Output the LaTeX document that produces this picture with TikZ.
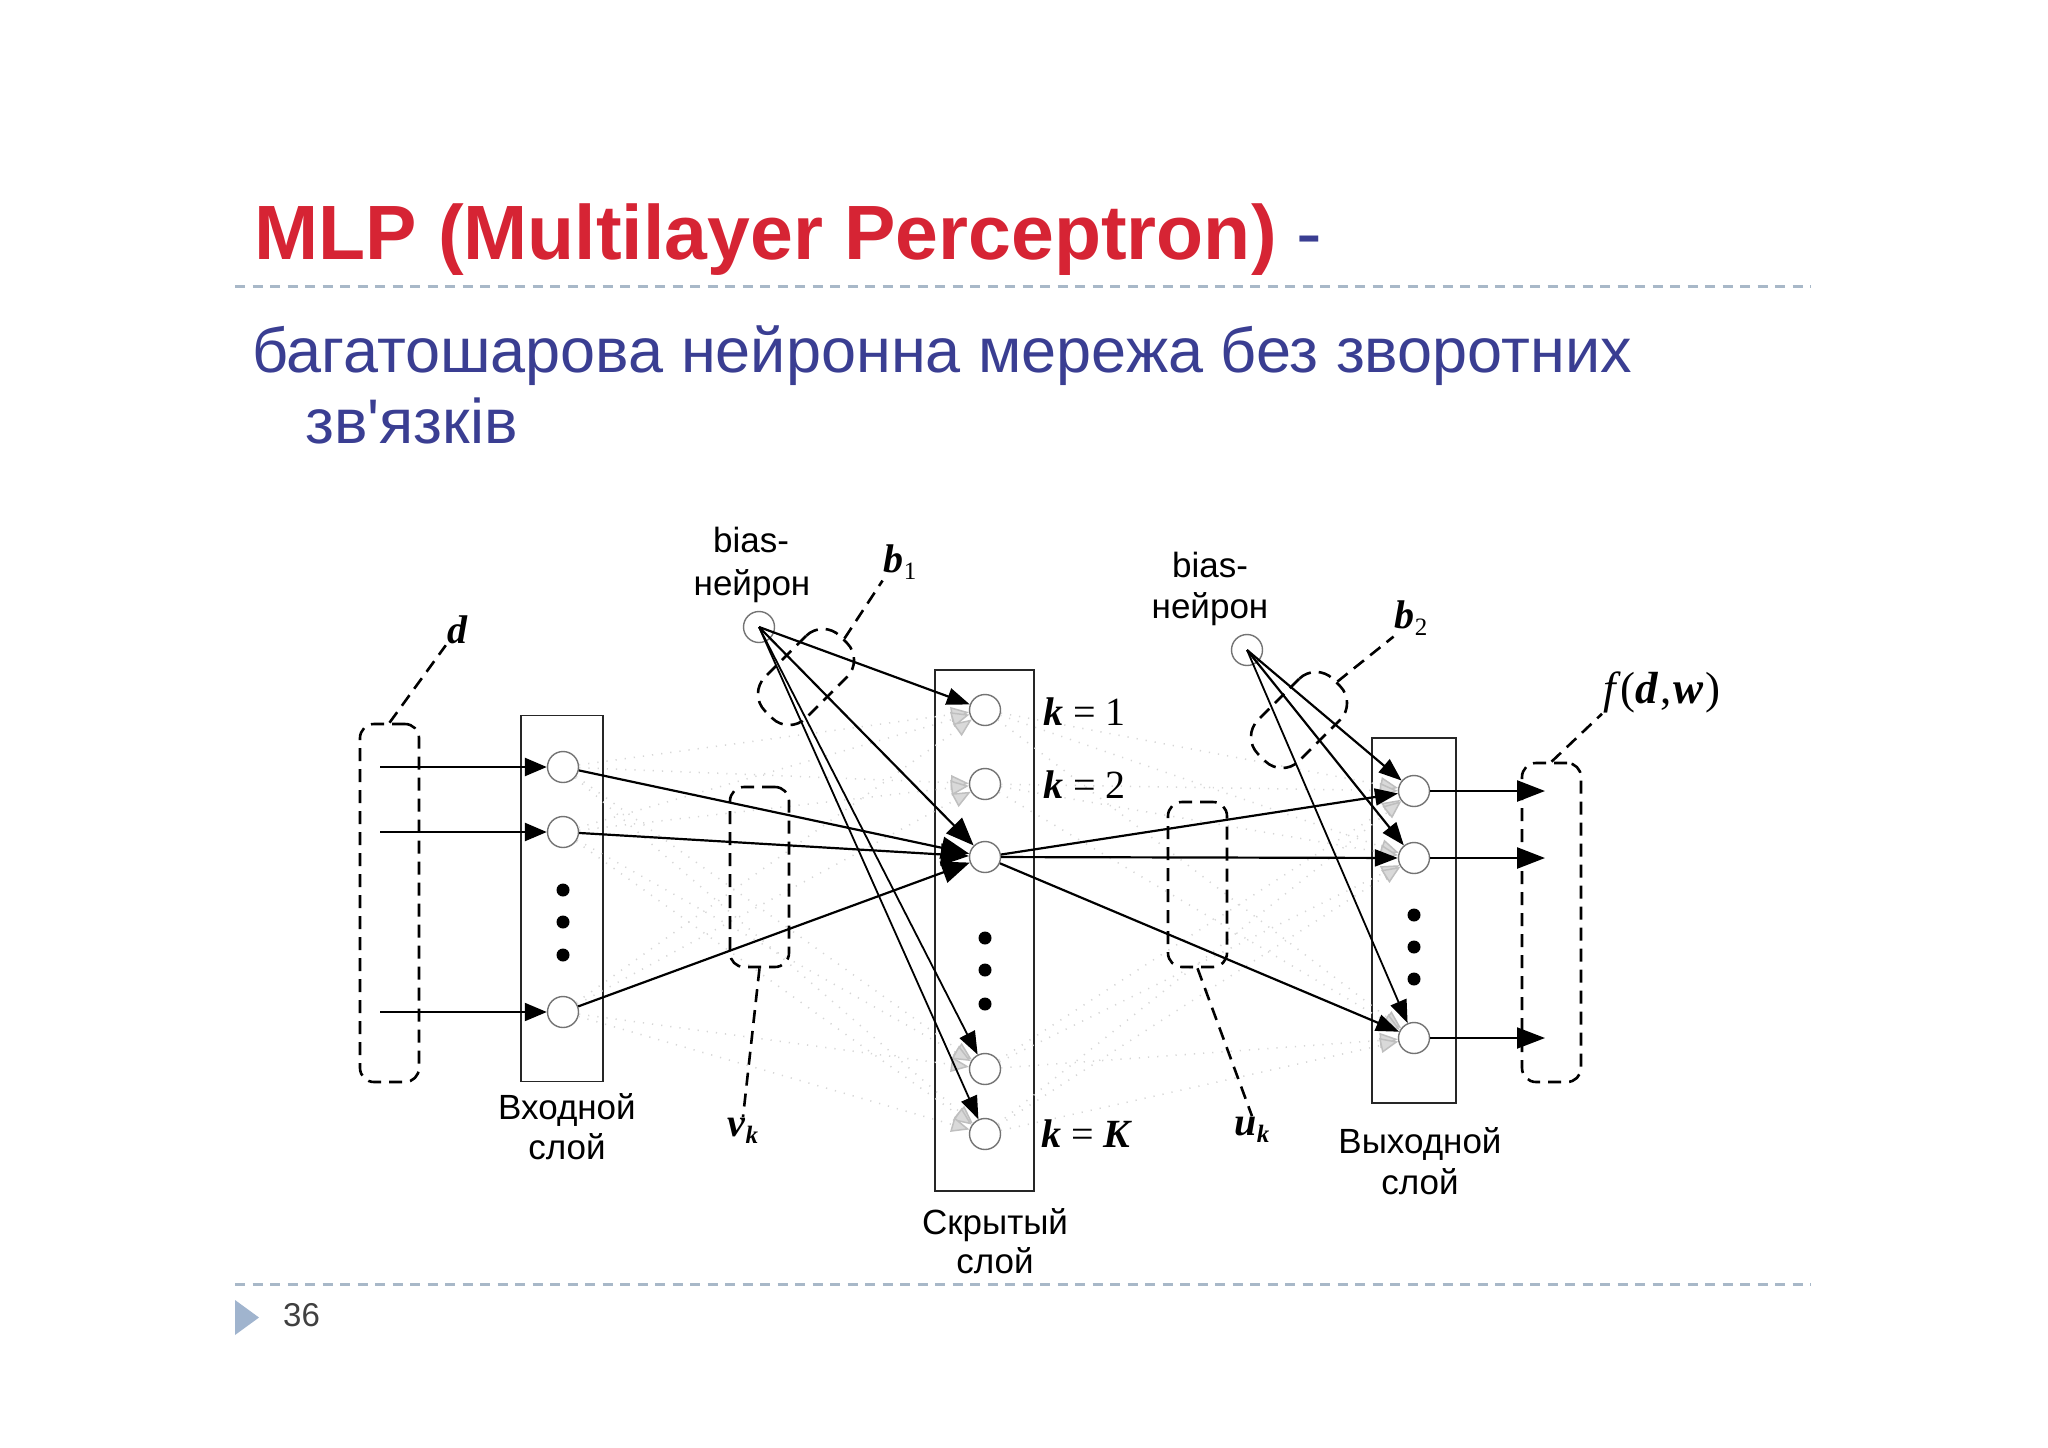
\documentclass[tikz,border=0pt]{standalone}
\usepackage{fontspec}
\setmainfont{Liberation Sans}
\newfontfamily\tms{Liberation Serif}
\usetikzlibrary{arrows.meta}
\definecolor{ttlred}{RGB}{214,36,52}
\definecolor{subblue}{RGB}{58,62,146}
\definecolor{rulegray}{RGB}{168,184,200}
\definecolor{trigray}{RGB}{160,180,206}
\definecolor{numgray}{RGB}{64,64,64}
\newcommand{\lbl}{\fontsize{35}{40}\selectfont}
\newcommand{\mth}{\tms\fontsize{40}{44}\selectfont}
\newcommand{\subs}{\tms\fontsize{25}{28}\selectfont}
\tikzset{
  neuron/.style={circle, draw=black!55, line width=1.4pt, minimum size=31pt, inner sep=0pt, fill=white},
  dotn/.style={circle, fill=black, minimum size=13pt, inner sep=0pt},
  layerbox/.style={draw=black!85, line width=1.5pt, inner sep=0pt},
  dbox/.style={draw, line width=2.6pt, dash pattern=on 13pt off 8pt, rounded corners=14pt, inner sep=0pt},
  blob/.style={draw, line width=2.6pt, dash pattern=on 13pt off 8pt, rounded corners=24pt, inner sep=0pt, rotate=45, minimum width=106pt, minimum height=58pt},
  leader/.style={line width=2.6pt, dash pattern=on 13pt off 8pt},
  conn/.style={line width=2.2pt, -{Triangle[length=23pt,width=17pt]}},
  bigconn/.style={line width=2.2pt, -{Triangle[length=28pt,width=22pt]}},
  ioarr/.style={line width=2.5pt, -{Triangle[length=22pt,width=18pt]}},
  outarr/.style={line width=2.5pt, -{Triangle[length=28pt,width=21pt]}},
  faint/.style={draw=black!16, line width=1.5pt, dash pattern=on 1.2pt off 8pt, -{Triangle[length=18pt,width=15pt,color=black!25,fill=black!15]}},
  rule/.style={draw=rulegray, line width=3pt, dash pattern=on 10pt off 7.5pt},
  txt/.style={inner sep=0pt, anchor=base, font=\lbl},
  mlab/.style={inner sep=1pt, font=\mth}
}
\begin{document}
\begin{tikzpicture}[x=1pt,y=-1pt]
\useasboundingbox (0,0) rectangle (2048,1448);
\fill[white] (0,0) rectangle (2048,1448);

% title and subtitle
\node[anchor=base west, inner sep=0pt, font=\fontsize{77}{90}\selectfont\bfseries, text=ttlred] (title) at (254,259) {MLP (Multilayer Perceptron)\hspace{20pt}\textcolor{subblue}{\mdseries -}};
\draw[rule] (235,286) -- (1811,286);
\node[anchor=base west, inner sep=0pt, font=\fontsize{63}{75}\selectfont, text=subblue] (sub1) at (252,372) {багатошарова нейронна мережа без зворотних};
\node[anchor=base west, inner sep=0pt, font=\fontsize{63}{75}\selectfont, text=subblue] (sub2) at (305,443) {зв\textquotesingle язків};

% footer
\draw[rule] (235,1284) -- (1811,1284);
\fill[trigray] (235,1300) -- (259,1317.5) -- (235,1335) -- cycle;
\node[anchor=base west, inner sep=0pt, font=\fontsize{33}{36}\selectfont, text=numgray] (pnum) at (283,1326) {36};

% layer frames
\node[layerbox, minimum width=82pt, minimum height=366pt] (inlayer) at (562,898.5) {};
\node[layerbox, minimum width=99pt, minimum height=521pt] (hidlayer) at (984.5,930.5) {};
\node[layerbox, minimum width=84pt, minimum height=365pt] (outlayer) at (1414,920.5) {};

% neurons
\node[neuron] (i1) at (563,767) {};
\node[neuron] (i2) at (563,832) {};
\node[neuron] (i3) at (563,1012) {};
\node[neuron] (h1) at (985,710) {};
\node[neuron] (h2) at (985,784) {};
\node[neuron] (h3) at (985,857) {};
\node[neuron] (h4) at (985,1069) {};
\node[neuron] (h5) at (985,1134) {};
\node[neuron] (o1) at (1414,791) {};
\node[neuron] (o2) at (1414,858) {};
\node[neuron] (o3) at (1414,1038) {};
\node[neuron] (bias1) at (759,627) {};
\node[neuron] (bias2) at (1247,650) {};

% ellipsis dots
\node[dotn] (id1) at (563,890) {};
\node[dotn] (id2) at (563,922) {};
\node[dotn] (id3) at (563,955) {};
\node[dotn] (hd1) at (985,938) {};
\node[dotn] (hd2) at (985,970) {};
\node[dotn] (hd3) at (985,1004) {};
\node[dotn] (od1) at (1414,915) {};
\node[dotn] (od2) at (1414,947) {};
\node[dotn] (od3) at (1414,979) {};

% faint connections
\foreach \a in {i1,i2,i3}{
  \foreach \b in {h1,h2,h4,h5}{
    \draw[faint] (\a) -- (\b);
  }
}
\foreach \a in {h1,h2,h4,h5}{
  \foreach \b in {o1,o2,o3}{
    \draw[faint] (\a) -- (\b);
  }
}

% input / output signals
\coordinate (s1) at (380,767);
\coordinate (s2) at (380,832);
\coordinate (s3) at (380,1012);
\coordinate (e1) at (1545,791);
\coordinate (e2) at (1545,858);
\coordinate (e3) at (1545,1038);
\draw[ioarr] (s1) -- (i1);
\draw[ioarr] (s2) -- (i2);
\draw[ioarr, line width=2pt] (s3) -- (i3);
\draw[outarr] (o1) -- (e1);
\draw[outarr] (o2) -- (e2);
\draw[outarr, line width=2pt] (o3) -- (e3);

% highlighted weights
\draw[bigconn] (i1) -- (h3);
\draw[bigconn] (i2) -- (h3);
\draw[bigconn] (i3) -- (h3);
\draw[conn] (bias1.center) -- (h1);
\draw[bigconn] (bias1.center) -- (h3);
\draw[conn, line width=1.8pt] (bias1.center) -- (h4);
\draw[conn, line width=1.8pt] (bias1.center) -- (h5);
\draw[conn] (h3) -- (o1);
\draw[conn] (h3) -- (o2);
\draw[conn] (h3) -- (o3);
\draw[conn] (bias2.center) -- (o1);
\draw[conn] (bias2.center) -- (o2);
\draw[conn, line width=1.8pt] (bias2.center) -- (o3);

% dashed groups
\node[dbox, minimum width=59pt, minimum height=358pt] (dbx) at (389.5,903) {};
\node[dbox, minimum width=59pt, minimum height=180pt] (vbx) at (759.5,877) {};
\node[dbox, minimum width=59pt, minimum height=165pt] (ubx) at (1197.5,884.5) {};
\node[dbox, minimum width=59pt, minimum height=319pt] (fbx) at (1551.5,922.5) {};
\node[blob] (b1blob) at (806,677) {};
\node[blob] (b2blob) at (1299,720) {};

% math labels
\node[mlab] (dlab) at (457,630) {\bfseries\itshape d};
\node[mlab] (b1lab) at (900,562) {\bfseries\itshape b\raisebox{-7pt}{\subs\mdseries\upshape 1}};
\node[mlab] (b2lab) at (1411,618) {\bfseries\itshape b\raisebox{-7pt}{\subs\mdseries\upshape 2}};
\node[mlab] (vlab) at (743,1131) {\bfseries\itshape v\raisebox{-7pt}{\subs\bfseries\itshape k}};
\node[mlab] (ulab) at (1252,1130) {\bfseries\itshape u\raisebox{-7pt}{\subs\bfseries\itshape k}};
\node[mlab, anchor=base west, font=\tms\fontsize{45}{48}\selectfont] (flab) at (1602,703) {\itshape f\hspace{5pt}\upshape(\bfseries\itshape d\hspace{2pt}\mdseries\upshape,\hspace{2pt}\bfseries\itshape w\hspace{2pt}\mdseries\upshape)};
\node[mlab, anchor=base west, inner sep=0pt] (k1) at (1043,725) {{\bfseries\itshape k} = 1};
\node[mlab, anchor=base west, inner sep=0pt] (k2) at (1043,798) {{\bfseries\itshape k} = 2};
\node[mlab, anchor=base west, inner sep=0pt] (kK) at (1041,1147) {{\bfseries\itshape k} = {\bfseries\itshape K}};

% leaders
\draw[leader] (dbx.north) -- (dlab.south west);
\draw[leader] (b1blob.east) -- (b1lab.south west);
\draw[leader] (b2blob.east) -- (b2lab.south west);
\draw[leader] (fbx.north) -- (flab.south west);
\draw[leader] (vbx.south) -- (vlab.north);
\draw[leader] (ubx.south) -- (ulab.north);

% text labels
\node[txt] (bias1a) at (751,552) {bias-};
\node[txt] (bias1b) at (752,595) {нейрон};
\node[txt] (bias2a) at (1210,577) {bias-};
\node[txt] (bias2b) at (1210,618) {нейрон};
\node[txt] (inlab1) at (567,1119) {Входной};
\node[txt] (inlab2) at (567,1159) {слой};
\node[txt] (hidlab1) at (995,1234) {Скрытый};
\node[txt] (hidlab2) at (995,1273) {слой};
\node[txt] (outlab1) at (1420,1153) {Выходной};
\node[txt] (outlab2) at (1420,1194) {слой};
\end{tikzpicture}
\end{document}
